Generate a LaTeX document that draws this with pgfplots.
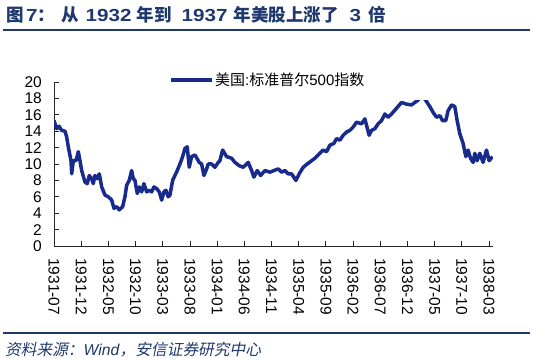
\documentclass[border=0pt]{standalone}
\usepackage{fontspec}
\usepackage{graphicx}
\usepackage{pgfplots}
\pgfplotsset{compat=1.18}
\setmainfont{Liberation Sans}
\newfontfamily\cjk{Noto Sans CJK SC}
\newfontfamily\cjki{Noto Sans CJK SC}[FakeSlant=0.2]
\definecolor{navy}{RGB}{31,56,110}
\definecolor{linec}{RGB}{24,42,140}
\newcommand{\widedig}[1]{\scalebox{1.18}[1]{#1}}
\begin{document}
\begin{tikzpicture}
\path[use as bounding box] (0,0) rectangle (534bp,358bp);
\node[anchor=west, inner sep=0pt, text=navy, font=\fontsize{17.5bp}{19bp}\selectfont\bfseries] at (6bp,343bp)
 {{\cjk 图}\hspace{2.5bp}\widedig{7}{\cjk ：}\hspace{6bp}{\cjk 从}\hspace{7bp}\widedig{1932}\hspace{5bp}{\cjk 年到}\hspace{10bp}\widedig{1937}\hspace{6bp}{\cjk 年美股上涨了}\hspace{11bp}\widedig{3}\hspace{7bp}{\cjk 倍}};
\draw[navy, line width=1.2bp] (3bp,328bp) -- (530bp,328bp);
\draw[navy, line width=1.2bp] (3bp,25bp) -- (530bp,25bp);
\node[anchor=west, inner sep=0pt, text=navy, font=\fontsize{15.7bp}{17bp}\selectfont] at (5bp,8.5bp)
 {{\cjki 资料来源：}\textit{Wind}{\cjki ，安信证券研究中心}};
\begin{axis}[
  at={(54bp,112bp)}, anchor=south west, scale only axis,
  width=438.8bp, height=164bp,
  xmin=0, xmax=80.7, ymin=0, ymax=20,
  axis x line*=bottom, axis y line*=left,
  axis line style={black!85, line width=0.8bp},
  tick style={black!85, line width=0.8bp},
  tick align=inside, major tick length=5bp,
  ytick={0,2,...,20},
  xtick={0,5,...,80},
  xticklabels={1931-07,1931-12,1932-05,1932-10,1933-03,1933-08,1934-01,1934-06,1934-11,1935-04,1935-09,1936-02,1936-07,1936-12,1937-05,1937-10,1938-03},
  /pgf/number format/assume math mode=true,
  ticklabel style={font=\fontsize{15.5bp}{17bp}\selectfont},
  xticklabel style={rotate=-90, anchor=west, inner sep=0pt},
  yticklabel style={anchor=east, inner sep=0pt},
  xticklabel shift=12bp, yticklabel shift=12bp,
  legend style={at={(0.4866,1.012)}, anchor=center, fill=white, draw=none,
    inner xsep=65bp, inner ysep=11bp, font=\fontsize{15bp}{17bp}\selectfont,
    nodes={inner sep=1.5bp}},
  legend cell align=left,
  legend image code/.code={\draw[#1] (0bp,0bp) -- (41bp,0bp);},
]
\addplot[linec, line width=3.5bp, line join=round] coordinates {
(0,15.3) (0.5,14.3) (0.92,14.6) (1.42,14.1) (2.02,14.0) (2.33,13.3) (2.63,12.1)
(3.13,10.4) (3.25,8.8) (3.55,10.4) (4.04,10.4) (4.47,11.5) (4.78,10.4) (5.09,9.2)
(5.7,7.8) (6.12,7.6) (6.49,8.6) (6.93,8.2) (7.22,7.6) (7.54,8.6) (7.96,8.2)
(8.33,8.8) (8.77,7.2) (9.38,6.2) (9.98,6.0) (10.61,5.6) (11.03,4.6) (11.53,4.8)
(12.0,4.4) (12.63,4.8) (13.05,6.0) (13.36,7.4) (13.84,8.0) (14.28,9.2) (14.58,8.2)
(14.89,8.0) (15.31,6.4) (15.68,7.2) (16.12,6.6) (16.54,7.6) (17.04,6.6) (17.52,6.8)
(17.96,6.6) (18.38,7.2) (18.88,7.0) (19.36,6.6) (19.8,5.6) (20.22,6.6) (20.59,6.8)
(21.01,6.0) (21.32,6.2) (21.82,8.0) (22.24,8.6) (22.67,9.2) (23.16,10.0) (23.66,10.9)
(24.08,11.9) (24.5,12.1) (24.87,9.6) (25.31,10.9) (25.92,11.1) (26.71,10.2) (27.15,10.0)
(27.57,8.6) (28.07,9.4) (28.36,10.0) (28.99,10.0) (29.6,9.6) (30.2,10.2) (30.51,10.4)
(31.01,11.7) (31.75,10.9) (32.67,10.7) (33.27,10.2) (34.06,9.8) (34.8,9.6) (35.72,10.2)
(36.34,9.2) (36.76,8.4) (37.37,9.2) (38.0,8.6) (38.79,9.2) (39.71,9.0) (40.44,9.2)
(41.23,9.4) (41.86,9.0) (42.46,9.2) (43.07,8.8) (43.69,8.8) (44.49,8.0) (45.09,8.8)
(45.83,9.6) (46.56,10.0) (47.37,10.4) (47.98,10.7) (48.58,11.1) (49.5,11.7) (50.13,11.5)
(50.74,12.3) (51.47,12.5) (51.97,13.1) (52.57,12.9) (53.18,13.5) (53.81,13.9) (54.41,14.1)
(55.02,14.5) (55.64,15.1) (56.56,14.9) (57.17,15.5) (57.96,13.5) (58.4,14.1) (59.01,14.3)
(59.61,14.9) (60.24,15.3) (60.85,16.1) (61.45,15.7) (62.08,16.1) (63.0,16.8) (63.92,17.5)
(64.83,17.3) (65.75,17.2) (66.36,17.5) (66.97,17.8) (67.65,18.4) (68.33,17.8) (69.12,17.0)
(69.72,16.3) (70.35,15.7) (70.96,15.9) (71.45,15.3) (72.06,15.3) (72.48,16.5) (73.11,17.2)
(73.71,17.0) (74.14,15.3) (74.63,13.7) (75.24,12.5) (75.74,10.9) (76.16,11.7) (76.6,10.7)
(77.08,10.2) (77.39,11.3) (77.81,10.4) (78.31,11.3) (78.91,10.2) (79.54,11.7) (80.02,10.4)
(80.64,10.9)
};
\addlegendentry{{\cjk 美国}:{\cjk 标准普尔}500{\cjk 指数}}
\end{axis}
\end{tikzpicture}
\end{document}
